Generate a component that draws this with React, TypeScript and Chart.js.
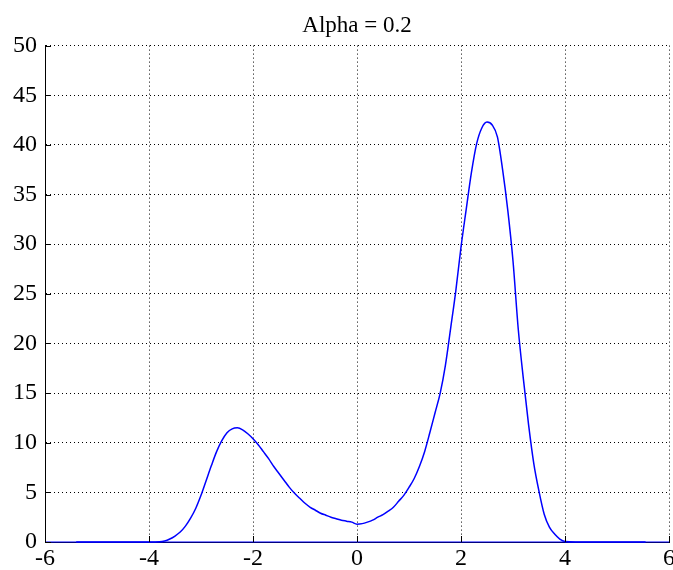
import React, { useEffect, useRef } from "react";
import { Chart, registerables } from "chart.js";

Chart.register(...registerables);

const titleText = "Alpha = 0.2";
const xTickValues = [-6, -4, -2, 0, 2, 4, 6];
const yTickValues = [0, 5, 10, 15, 20, 25, 30, 35, 40, 45, 50];

const xs = [
  -5.4, -5.0, -4.5, -4.0, -3.8, -3.7, -3.6, -3.5, -3.4, -3.3, -3.2, -3.1, -3.0,
  -2.9, -2.8, -2.7, -2.6, -2.5, -2.4, -2.3, -2.2, -2.1, -2.0, -1.9, -1.8, -1.7,
  -1.6, -1.5, -1.4, -1.3, -1.2, -1.1, -1.0, -0.9, -0.8, -0.7, -0.6, -0.5, -0.4,
  -0.3, -0.2, -0.1, 0.0, 0.1, 0.2, 0.3, 0.4, 0.5, 0.6, 0.7, 0.8, 0.9, 1.0, 1.1,
  1.2, 1.3, 1.4, 1.5, 1.6, 1.7, 1.8, 1.9, 2.0, 2.1, 2.2, 2.3, 2.4, 2.5, 2.6,
  2.7, 2.8, 2.9, 3.0, 3.1, 3.2, 3.3, 3.4, 3.5, 3.6, 3.7, 3.8, 3.9, 4.0, 4.2,
  4.5, 5.0, 5.55,
];
const density = [
  0, 0, 0, 0, 0.02, 0.1, 0.3, 0.6, 1.0, 1.6, 2.4, 3.4, 4.7,
  6.2, 7.7, 9.1, 10.2, 11.0, 11.4, 11.5, 11.3, 10.9, 10.4, 9.8, 9.1, 8.4,
  7.6, 6.9, 6.2, 5.5, 4.9, 4.4, 3.9, 3.5, 3.2, 2.9, 2.7, 2.5, 2.35,
  2.2, 2.1, 2.0, 1.8, 1.85, 2.0, 2.2, 2.5, 2.75, 3.1, 3.5, 4.1, 4.7, 5.5, 6.4,
  7.6, 9.1, 11.0, 13.0, 15.0, 17.8, 21.5, 25.3, 29.7, 33.5, 37.2, 40.1, 41.7, 42.3, 42.0,
  40.8, 37.5, 33.4, 28.3, 21.5, 16.4, 11.8, 7.9, 5.1, 2.8, 1.5, 0.8, 0.3, 0.05, 0,
  0, 0, 0,
];
const baselineXs = [-6, 6];
const baselineYs = [0, 0];

const FONT = "'Liberation Serif', 'Times New Roman', serif";

const inwardTicks = {
  id: "inwardTicks",
  afterDatasetsDraw(chart: any) {
    const { ctx, chartArea, scales } = chart;
    ctx.save();
    ctx.strokeStyle = "#000";
    ctx.lineWidth = 1;
    ctx.beginPath();
    xTickValues.forEach((v) => {
      const px = Math.round(scales.x.getPixelForValue(v)) + 0.5;
      ctx.moveTo(px, chartArea.bottom);
      ctx.lineTo(px, chartArea.bottom - 6);
    });
    yTickValues.forEach((v) => {
      const py = Math.round(scales.y.getPixelForValue(v)) + 0.5;
      ctx.moveTo(chartArea.left, py);
      ctx.lineTo(chartArea.left + 6, py);
    });
    ctx.stroke();
    ctx.restore();
  },
};

export default function App() {
  const ref = useRef<HTMLCanvasElement | null>(null);
  useEffect(() => {
    document.body.style.margin = "0";
    const canvas = ref.current;
    if (!canvas) return;
    const chart = new Chart(canvas, {
      type: "line",
      data: {
        datasets: [
          {
            label: "baseline",
            data: baselineXs.map((x, i) => ({ x, y: baselineYs[i] })),
            borderColor: "#0000ff",
            borderWidth: 1,
            pointRadius: 0,
            clip: 3,
          },
          {
            label: "density",
            data: xs.map((x, i) => ({ x, y: density[i] })),
            borderColor: "#0000ff",
            borderWidth: 1.5,
            pointRadius: 0,
            cubicInterpolationMode: "monotone",
            clip: 3,
          },
        ],
      },
      options: {
        responsive: false,
        animation: false,
        layout: { padding: { left: 0, right: 4, top: 0, bottom: 0 } },
        plugins: {
          legend: { display: false },
          tooltip: { enabled: false },
          title: {
            display: true,
            text: titleText,
            fullSize: false,
            color: "#000",
            font: { family: FONT, size: 23, weight: "normal", lineHeight: 1.2 },
            padding: { top: 12, bottom: 6 },
          },
        },
        scales: {
          x: {
            type: "linear",
            min: -6,
            max: 6,
            afterBuildTicks: (s: any) => {
              s.ticks = xTickValues.map((v) => ({ value: v }));
            },
            ticks: {
              color: "#000",
              font: { family: FONT, size: 24 },
              padding: 2,
              maxRotation: 0,
            },
            grid: { color: "#000", lineWidth: 1, drawTicks: false },
            border: { display: true, color: "#000", width: 1, dash: [1, 3] },
            afterFit: (s: any) => {
              s.height = 28;
              s.paddingLeft = 0;
              s.paddingRight = 0;
            },
          },
          y: {
            type: "linear",
            min: 0,
            max: 50,
            afterBuildTicks: (s: any) => {
              s.ticks = yTickValues.map((v) => ({ value: v }));
            },
            ticks: {
              color: "#000",
              font: { family: FONT, size: 24 },
              padding: 8,
            },
            grid: { color: "#000", lineWidth: 1, drawTicks: false },
            border: { display: true, color: "#000", width: 1, dash: [1, 3] },
            afterFit: (s: any) => {
              s.width = 45;
              s.paddingTop = 0;
              s.paddingBottom = 0;
            },
          },
        },
      },
      plugins: [inwardTicks],
    } as any);
    return () => chart.destroy();
  }, []);
  return (
    <div style={{ position: "fixed", left: 0, top: 0, width: 673, height: 570, background: "#fff" }}>
      <canvas ref={ref} width={673} height={570} style={{ display: "block" }} />
    </div>
  );
}
